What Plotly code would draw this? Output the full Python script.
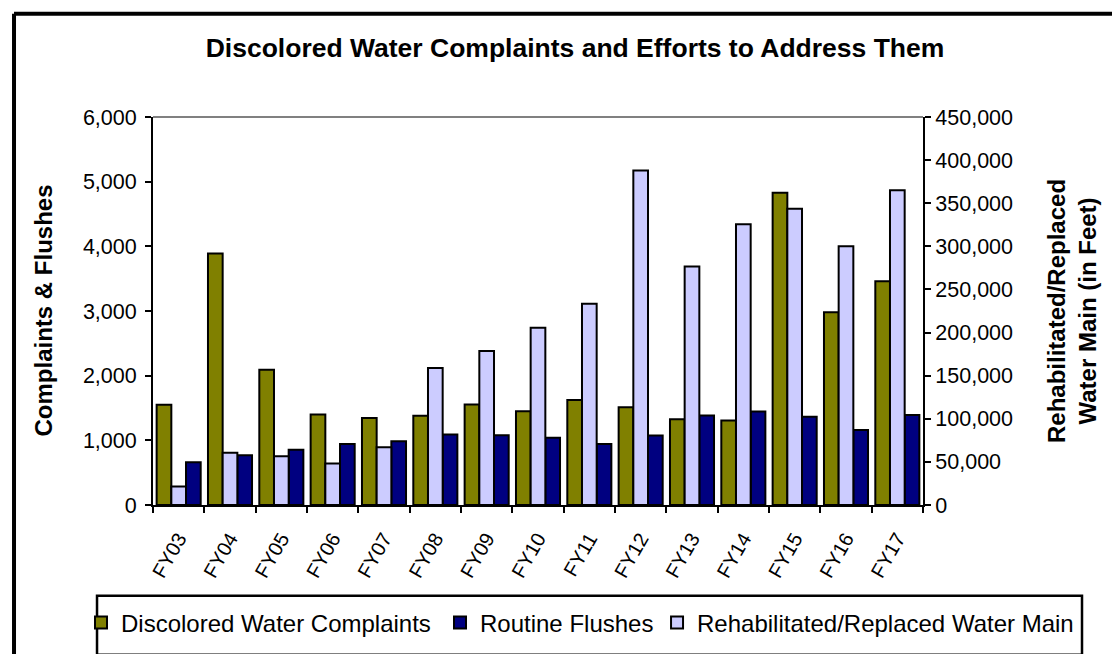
import plotly.graph_objects as go

years = ["FY03", "FY04", "FY05", "FY06", "FY07", "FY08", "FY09", "FY10",
         "FY11", "FY12", "FY13", "FY14", "FY15", "FY16", "FY17"]
complaints = [1550, 3890, 2090, 1400, 1345, 1380, 1555, 1450, 1625, 1510, 1325, 1305, 4830, 2980, 3460]
flushes = [660, 770, 855, 945, 985, 1090, 1080, 1040, 945, 1075, 1385, 1445, 1365, 1160, 1390]
mains = [21500, 60500, 56500, 48000, 67000, 159000, 178500, 205500, 233500,
         388000, 276500, 325500, 343500, 300000, 365000]

FONT = "Liberation Sans, Arial, sans-serif"
edge = dict(color="black", width=2)
bw = 0.286

fig = go.Figure()
fig.add_trace(go.Bar(
    x=years, y=complaints, name="Discolored Water Complaints", legend="legend",
    marker=dict(color="#808000", line=edge), width=bw, offset=-0.429,
))
fig.add_trace(go.Bar(
    x=years, y=flushes, name="Routine Flushes", legend="legend2",
    marker=dict(color="#000080", line=edge), width=bw, offset=0.143,
))
fig.add_trace(go.Bar(
    x=years, y=mains, name="Rehabilitated/Replaced Water Main", yaxis="y2", legend="legend3",
    marker=dict(color="#CCCCFF", line=edge), width=bw, offset=-0.143,
))

axis_common = dict(
    showgrid=False, zeroline=False, showline=True, linecolor="black", linewidth=2,
    ticks="outside", ticklen=6, tickwidth=2, tickcolor="black",
    tickfont=dict(size=21.5, color="black", family=FONT), tickformat=",",
)
leg_common = dict(
    orientation="h", xref="container", yref="container",
    y=0.048, yanchor="middle", xanchor="left",
    bgcolor="rgba(0,0,0,0)", borderwidth=0,
    font=dict(size=24, color="black", family=FONT),
)

fig.update_layout(
    width=1104, height=646,
    margin=dict(l=145, r=189, t=109, b=149),
    paper_bgcolor="white", plot_bgcolor="white",
    font=dict(family=FONT, color="black"),
    barmode="overlay",
    showlegend=True,
    title=dict(
        text="<b>Discolored Water Complaints and Efforts to Address Them</b>",
        x=0.5136, xanchor="center", y=0.938, yanchor="middle",
        font=dict(size=26.5, color="black", family=FONT),
    ),
    xaxis=dict(
        type="category", range=[-0.5, 14.5], showgrid=False, zeroline=False,
        showline=True, linecolor="black", linewidth=2,
        ticks="outside", ticklen=6, tickwidth=2, tickcolor="black", tickson="boundaries",
        tickangle=-60, ticklabelstandoff=12,
        tickfont=dict(size=20, color="black", family=FONT),
    ),
    yaxis=dict(range=[0, 6000], dtick=1000, ticklabelstandoff=4, **axis_common),
    yaxis2=dict(range=[0, 450000], dtick=50000, overlaying="y", side="right", **axis_common),
    legend=dict(x=0.0661, **leg_common),
    legend2=dict(x=0.3913, **leg_common),
    legend3=dict(x=0.5879, **leg_common),
    shapes=[
        dict(type="line", xref="paper", yref="paper", x0=0, x1=1, y0=1, y1=1,
             line=dict(color="#808080", width=2)),
        dict(type="rect", xref="paper", yref="paper", x0=-0.0727, x1=1.2065, y0=-0.386, y1=-0.234,
             line=dict(color="black", width=2.5)),
        dict(type="line", xref="paper", yref="paper", x0=-0.1805, x1=1.3, y0=1.2662, y1=1.2662,
             line=dict(color="black", width=4)),
        dict(type="line", xref="paper", yref="paper", x0=-0.1805, x1=-0.1805, y0=-0.45, y1=1.2662,
             line=dict(color="black", width=4)),
    ],
    annotations=[
        dict(text="<b>Complaints & Flushes</b>", xref="paper", yref="paper",
             x=-0.1435, y=0.5, xanchor="center", yanchor="middle",
             textangle=-90, showarrow=False,
             font=dict(size=24, color="black", family=FONT)),
        dict(text="<b>Rehabilitated/Replaced<br>Water Main (in Feet)</b>", xref="paper", yref="paper",
             x=1.1935, y=0.5, xanchor="center", yanchor="middle",
             textangle=-90, showarrow=False,
             font=dict(size=24, color="black", family=FONT)),
    ],
)

fig.write_html("out.html")
